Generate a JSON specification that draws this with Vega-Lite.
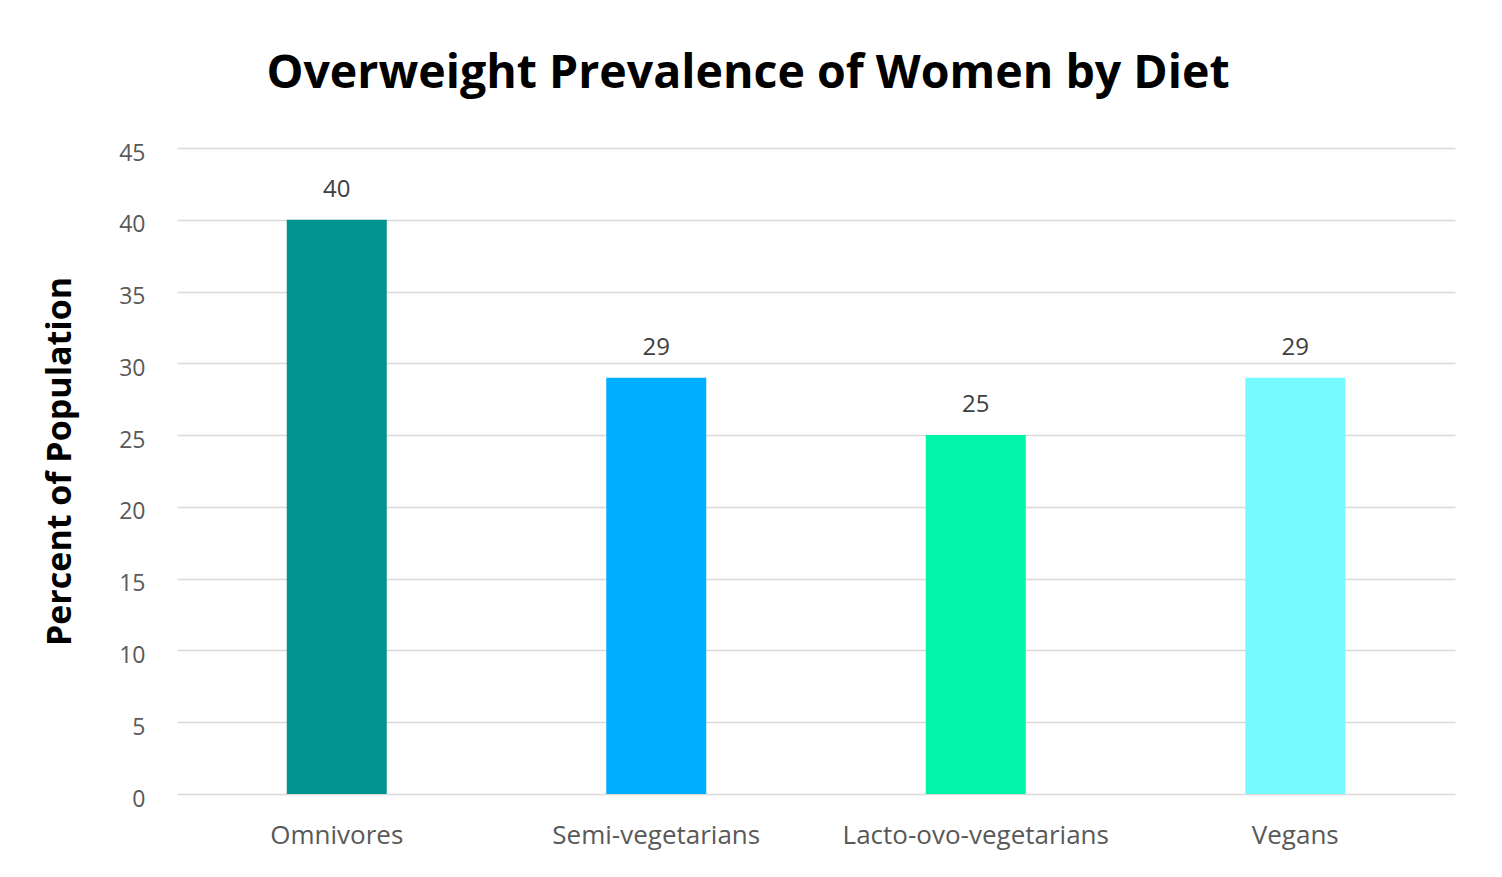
{
  "$schema": "https://vega.github.io/schema/vega-lite/v6.json",
  "autosize": "none",
  "width": 1278,
  "height": 646,
  "padding": {"left": 177, "top": 148, "right": 47, "bottom": 83},
  "background": "white",
  "title": {
    "text": "Overweight Prevalence of Women by Diet",
    "font": "Open Sans",
    "fontSize": 46.5,
    "fontWeight": "bold",
    "color": "#000000",
    "anchor": "middle",
    "dx": -68,
    "offset": 45
  },
  "config": {
    "view": {"stroke": null},
    "font": "Open Sans"
  },
  "data": {
    "values": [
      {"diet": "Omnivores", "pct": 40, "color": "#009490"},
      {"diet": "Semi-vegetarians", "pct": 29, "color": "#00AEFF"},
      {"diet": "Lacto-ovo-vegetarians", "pct": 25, "color": "#00F5A8"},
      {"diet": "Vegans", "pct": 29, "color": "#75FBFF"}
    ]
  },
  "encoding": {
    "x": {
      "field": "diet",
      "type": "nominal",
      "sort": null,
      "scale": {"paddingInner": 0.687, "paddingOuter": 0.3435},
      "axis": {
        "title": null,
        "labelAngle": 0,
        "labelLimit": 0,
        "labelFont": "Open Sans",
        "labelFontSize": 26,
        "labelColor": "#595959",
        "labelPadding": 28,
        "ticks": false,
        "domain": false,
        "grid": false
      }
    },
    "y": {
      "field": "pct",
      "type": "quantitative",
      "scale": {"domain": [0, 45], "nice": false},
      "axis": {
        "title": "Percent of Population",
        "titleFont": "Open Sans",
        "titleFontSize": 34,
        "titleFontWeight": "bold",
        "titleColor": "#000000",
        "titleX": -117,
        "titleY": 313,
        "titleBaseline": "middle",
        "titleAlign": "center",
        "values": [0, 5, 10, 15, 20, 25, 30, 35, 40, 45],
        "labelFont": "Open Sans",
        "labelFontSize": 23,
        "labelColor": "#595959",
        "labelPadding": 32,
        "labelOffset": 5,
        "ticks": false,
        "domain": false,
        "grid": true,
        "gridColor": "#d9d9d9",
        "gridWidth": 1.5
      }
    }
  },
  "layer": [
    {
      "mark": {"type": "bar"},
      "encoding": {
        "color": {"field": "color", "type": "nominal", "scale": null, "legend": null}
      }
    },
    {
      "mark": {"type": "text", "baseline": "bottom", "dy": -18, "fontSize": 24, "color": "#404040", "font": "Open Sans"},
      "encoding": {
        "text": {"field": "pct", "type": "quantitative"}
      }
    }
  ]
}
